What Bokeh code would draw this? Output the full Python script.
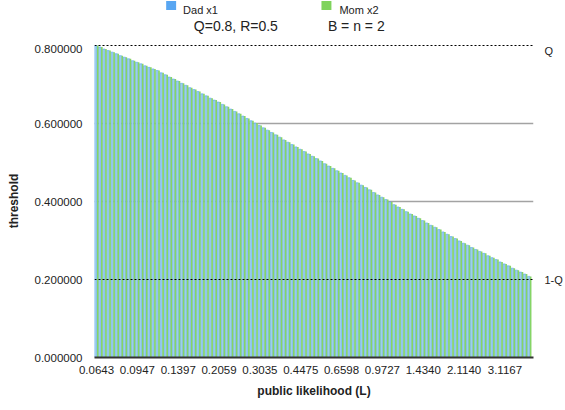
from bokeh.plotting import figure
from bokeh.models import (Range1d, FixedTicker, NumeralTickFormatter, Span,
                          LinearAxis, ColumnDataSource)
from bokeh.core.properties import value
from bokeh.layouts import column
from bokeh.embed import file_html
from bokeh.resources import INLINE
from bokeh.transform import dodge

# ---- data -------------------------------------------------------------
tick_labels = ["0.0643", "0.0947", "0.1397", "0.2059", "0.3035", "0.4475",
               "0.6598", "0.9727", "1.4340", "2.1140", "3.1167"]
tick_every = 10  # one labelled category every 10 bars

dad_x1 = [0.800, 0.796, 0.791, 0.787, 0.783, 0.779, 0.774, 0.770, 0.766, 0.761,
          0.757, 0.753, 0.748, 0.744, 0.740, 0.736, 0.730, 0.725, 0.719, 0.714,
          0.709, 0.703, 0.698, 0.692, 0.687, 0.682, 0.676, 0.671, 0.665, 0.660,
          0.655, 0.649, 0.643, 0.637, 0.631, 0.625, 0.619, 0.613, 0.607, 0.601,
          0.595, 0.589, 0.583, 0.577, 0.571, 0.565, 0.558, 0.552, 0.546, 0.540,
          0.534, 0.528, 0.522, 0.516, 0.510, 0.504, 0.497, 0.491, 0.485, 0.479,
          0.473, 0.467, 0.461, 0.454, 0.448, 0.442, 0.436, 0.430, 0.423, 0.417,
          0.411, 0.405, 0.399, 0.392, 0.386, 0.380, 0.374, 0.368, 0.363, 0.357,
          0.351, 0.345, 0.339, 0.334, 0.328, 0.322, 0.316, 0.310, 0.305, 0.299,
          0.293, 0.288, 0.282, 0.277, 0.272, 0.267, 0.261, 0.256, 0.251, 0.245,
          0.240, 0.235, 0.229, 0.224, 0.219, 0.214, 0.208]
mom_x2 = list(dad_x1)  # the two series coincide

series_names = ["Dad x1", "Mom x2"]
series_colors = ["#58a6f2", "#7fd35c"]
subtitles = ["Q=0.8, R=0.5", "B = n = 2"]
y_ticks = [0.0, 0.2, 0.4, 0.6, 0.8]
Q = 0.8
ref_labels = {Q: "Q", round(1 - Q, 10): "1-Q"}

FONT = "Liberation Sans"
TXT = "#222222"
W = 565
FRAME_L, FRAME_R = 94, 535   # pixel edges of the plotting area

# ---- header (legend + subtitles) -------------------------------------
# the column aligns the header's frame with the chart's frame, so the header
# range is expressed in page pixels between the two frame edges
hdr = figure(width=W, height=44, output_backend="svg", toolbar_location=None,
             x_range=Range1d(FRAME_L, FRAME_R), y_range=Range1d(44, 0),
             x_axis_location=None, y_axis_location=None,
             min_border=0, min_border_left=FRAME_L, min_border_right=W - FRAME_R,
             outline_line_color=None)
hdr.grid.visible = False
hdr.rect(x=[171, 327], y=[5, 5], width=10, height=9, fill_color=series_colors,
         line_color=None)
hdr.text(x=[183, 340], y=[9.5, 9.5], text=series_names, text_font=value(FONT),
         text_font_size="11px", text_color=TXT, text_baseline="alphabetic")
hdr.text(x=[236, 357], y=[25.5, 25.5], text=subtitles, text_font=value(FONT),
         text_font_size="14px", text_color=TXT, text_align="center",
         text_baseline="alphabetic")

# ---- main chart -------------------------------------------------------
idx = list(range(len(dad_x1)))
src = ColumnDataSource(dict(x=idx, dad=dad_x1, mom=mom_x2))

p = figure(width=W, height=366, output_backend="svg", toolbar_location=None,
           x_range=Range1d(-0.5, len(idx) + 0.0), y_range=Range1d(0, 0.8026),
           min_border_left=FRAME_L, min_border_right=W - FRAME_R, min_border_top=0,
           min_border_bottom=53, outline_line_color=None)

p.vbar(x=dodge("x", -0.2, range=p.x_range), top="dad", width=0.6, source=src,
       fill_color="#9dcdee", line_color=series_colors[0], line_width=0.6)
p.vbar(x=dodge("x", 0.3, range=p.x_range), top="mom", width=0.4, source=src,
       fill_color="#86d466", line_color=None)

# grid
p.xgrid.visible = False
p.ygrid.ticker = FixedTicker(ticks=[0.4, 0.6])
p.ygrid.grid_line_color = "#a3a3a3"
p.ygrid.grid_line_width = 1.5

for loc in ref_labels:
    p.add_layout(Span(location=loc, dimension="width", line_color="black",
                      line_width=1.2, line_dash="2 2"))

# y axis
ya = p.yaxis[0]
ya.ticker = FixedTicker(ticks=y_ticks)
ya.formatter = NumeralTickFormatter(format="0.000000")
ya.axis_line_color = None
ya.major_tick_line_color = None
ya.minor_tick_line_color = None
ya.major_tick_out = 0
ya.major_tick_in = 0
ya.major_label_standoff = 12
ya.major_label_text_font = FONT
ya.major_label_text_font_size = "11.5px"
ya.major_label_text_color = TXT
ya.axis_label = "threshold"
ya.axis_label_text_font = FONT
ya.axis_label_text_font_style = "bold"
ya.axis_label_text_font_size = "12px"
ya.axis_label_text_color = TXT
ya.axis_label_standoff = 11

# right axis carrying the Q / 1-Q marks
ra = LinearAxis(ticker=FixedTicker(ticks=list(ref_labels)),
                major_label_overrides=ref_labels,
                axis_line_color=None, major_tick_line_color=None,
                minor_tick_line_color=None, major_tick_out=0, major_tick_in=0,
                major_label_standoff=11)
ra.major_label_text_font = FONT
ra.major_label_text_font_size = "11px"
ra.major_label_text_color = TXT
p.add_layout(ra, "right")

# x axis
xa = p.xaxis[0]
xa.ticker = FixedTicker(ticks=[i * tick_every for i in range(len(tick_labels))])
xa.major_label_overrides = {i * tick_every: lab for i, lab in enumerate(tick_labels)}
xa.axis_line_color = "#333333"
xa.axis_line_width = 2
xa.major_tick_line_color = None
xa.minor_tick_line_color = None
xa.major_tick_out = 0
xa.major_tick_in = 0
xa.major_label_standoff = 8
xa.major_label_text_font = FONT
xa.major_label_text_font_size = "11.5px"
xa.major_label_text_color = TXT
xa.axis_label = "public likelihood (L)"
xa.axis_label_text_font = FONT
xa.axis_label_text_font_style = "bold"
xa.axis_label_text_font_size = "12px"
xa.axis_label_text_color = TXT
xa.axis_label_standoff = 7

layout = column(hdr, p, spacing=0)
open("out.html", "w").write(file_html(layout, INLINE))
